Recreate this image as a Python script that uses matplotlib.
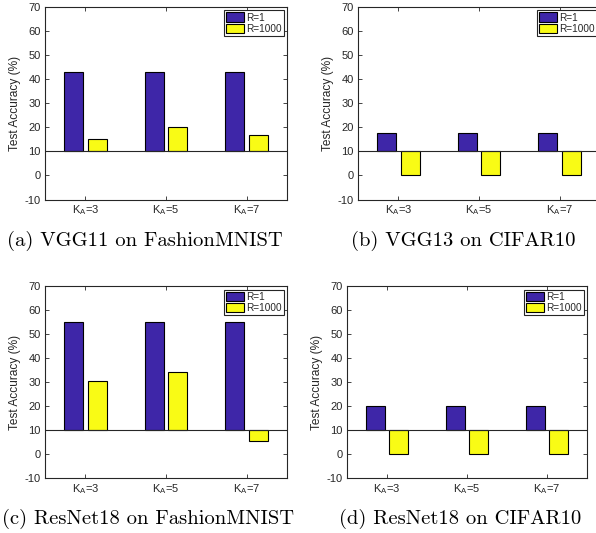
import numpy as np
import matplotlib
matplotlib.use('Agg')
from matplotlib import pyplot as plt

plt.rcParams['font.family'] = ['Liberation Sans', 'DejaVu Sans']
plt.rcParams['mathtext.fontset'] = 'custom'
plt.rcParams['mathtext.rm'] = 'Liberation Sans'

# data (baseline of the bars is 10)
groups = ['K$_\\mathregular{A}$=3', 'K$_\\mathregular{A}$=5', 'K$_\\mathregular{A}$=7']
series = ['R=1', 'R=1000']
vgg11_fmnist = [[42.8, 42.8, 42.8], [15.3, 20.3, 17.0]]
vgg13_cifar = [[17.5, 17.5, 17.5], [0.0, 0.0, 0.0]]
resnet18_fmnist = [[55.0, 55.0, 55.0], [30.6, 34.3, 5.5]]
resnet18_cifar = [[20.2, 20.2, 20.2], [0.0, 0.0, 0.0]]
captions = ['(a) VGG11 on FashionMNIST', '(b) VGG13 on CIFAR10',
            '(c) ResNet18 on FashionMNIST', '(d) ResNet18 on CIFAR10']
yticks = list(range(-10, 71, 10))

BASE = 10
colors = ['#3e26a8', '#f9fb15']
dark = '#262626'

W, H = 596, 533
fig = plt.figure(figsize=(W / 100, H / 100), dpi=100)


def px_axes(l, r, t, b):
    return fig.add_axes([l / W, 1 - b / H, (r - l) / W, (b - t) / H])


def draw(ax, data):
    x = np.arange(1, len(groups) + 1)
    offs = [-0.145, 0.145]
    for i, vals in enumerate(data):
        h = np.array(vals) - BASE
        ax.bar(x + offs[i], h, width=0.235, bottom=BASE, color=colors[i],
               edgecolor='black', linewidth=0.8, label=series[i], zorder=2)
    ax.axhline(BASE, color=dark, lw=0.8, zorder=3)
    ax.set_xlim(0.5, 3.5)
    ax.set_ylim(-10, 70)
    ax.set_xticks(x)
    ax.set_xticklabels(groups)
    ax.set_yticks(yticks)
    ax.set_yticklabels([str(v) for v in yticks])
    ax.tick_params(direction='in', length=3, width=0.6, colors=dark,
                   labelsize=8, top=True, right=True, pad=3)
    for s in ax.spines.values():
        s.set_color(dark)
        s.set_linewidth(0.8)
    ax.set_ylabel('Test Accuracy (%)', fontsize=8.6, color=dark, labelpad=3)
    leg = ax.legend(loc='upper right', fontsize=7.2, fancybox=False,
                    framealpha=1, edgecolor=dark, borderpad=0.2,
                    labelspacing=0.1, handlelength=1.8, handleheight=1.1,
                    handletextpad=0.2, borderaxespad=0.35)
    leg.get_frame().set_linewidth(0.8)
    for t in leg.get_texts():
        t.set_color(dark)


boxes = [(45, 287, 7, 199.5), (358, 600, 7, 199.5),
         (45, 287, 286, 478), (347, 587, 286, 478)]
datasets = [vgg11_fmnist, vgg13_cifar, resnet18_fmnist, resnet18_cifar]
cap_pos = [(145, 241), (463, 241), (148, 519), (460, 519)]

for box, d, cap, cp in zip(boxes, datasets, captions, cap_pos):
    ax = px_axes(*box)
    draw(ax, d)
    fig.text(cp[0] / W, 1 - cp[1] / H, cap, ha='center', va='center',
             fontsize=14.8, family='cmr10', color='black')

plt.savefig('out.png', dpi=100)
